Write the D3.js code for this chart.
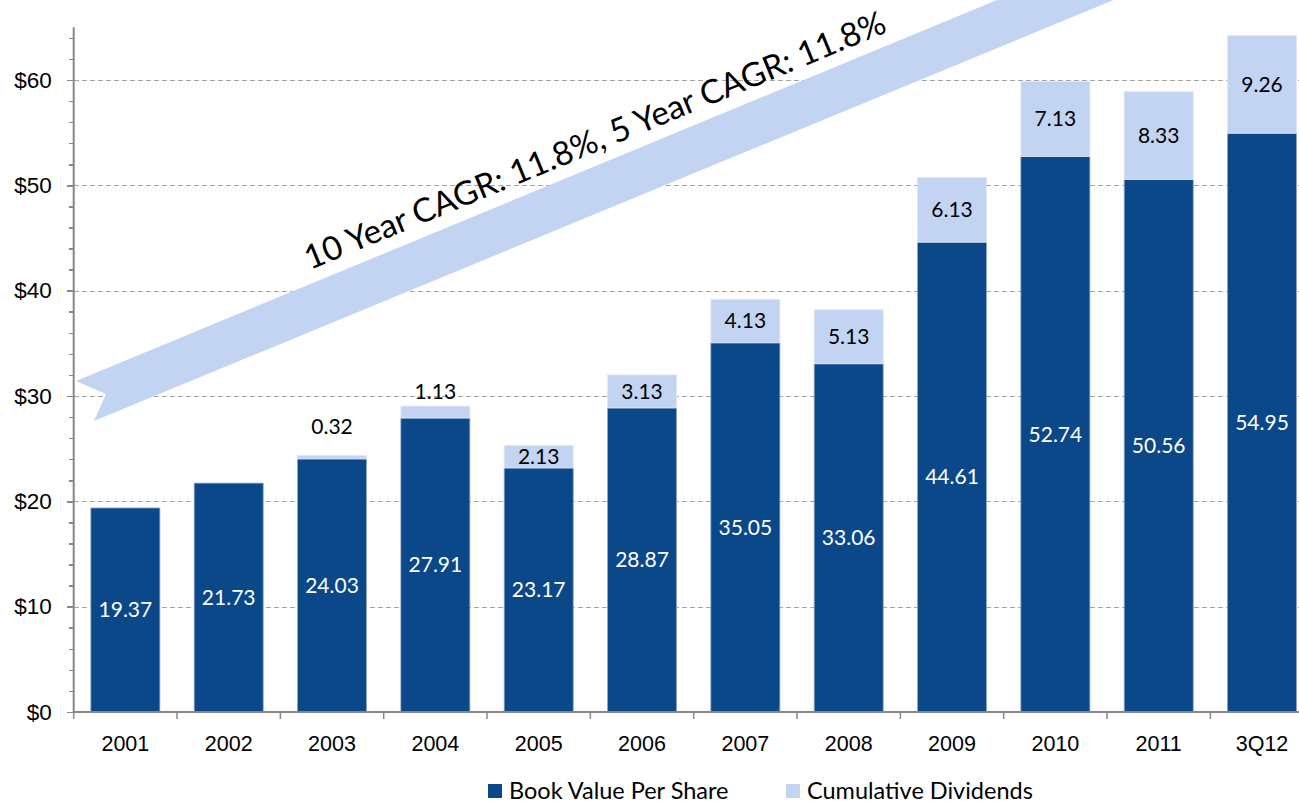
<!DOCTYPE html>
<html>
<head>
    <meta charset="utf-8">
    <style>
        body {
            margin: 0;
            background: #fff;
        }

        svg {
            font-family: Lato, "Open Sans", sans-serif;
            display: block;
        }

        .axis path,
        .axis line {
            stroke: #878787;
            shape-rendering: crispEdges;
        }

        .axis text {
            fill: #000;
        }

        .grid line {
            stroke: #a6a6a6;
            stroke-dasharray: 5, 3;
            shape-rendering: crispEdges;
        }
    </style>
</head>

<body>
    <script src="https://d3js.org/d3.v7.min.js"></script>
    <script>

        // chart data
        var categories = ["2001", "2002", "2003", "2004", "2005", "2006", "2007", "2008", "2009", "2010", "2011", "3Q12"];
        var bookValue = [19.37, 21.73, 24.03, 27.91, 23.17, 28.87, 35.05, 33.06, 44.61, 52.74, 50.56, 54.95];
        var dividends = [0, 0, 0.32, 1.13, 2.13, 3.13, 4.13, 5.13, 6.13, 7.13, 8.33, 9.26];
        var yTickValues = [0, 10, 20, 30, 40, 50, 60];
        var seriesNames = ["Book Value Per Share", "Cumulative Dividends"];
        var seriesColors = ["#0b4889", "#c3d4f3"];
        var arrowLabel = "10 Year CAGR: 11.8%, 5 Year CAGR: 11.8%";

        var width = 1299,
            height = 805,
            left = 73.7,
            right = 1313.7,
            bottom = 712;

        var svg = d3.select("body").append("svg")
            .attr("width", width)
            .attr("height", height);

        var x = d3.scaleBand()
            .domain(categories)
            .range([left, right])
            .paddingInner(0.332)
            .paddingOuter(0.166);

        // continuous position along the category axis (in category units)
        var xPos = d3.scaleLinear()
            .domain([0, categories.length])
            .range([left, right]);

        var y = d3.scaleLinear()
            .domain([0, 65])
            .range([bottom, bottom - 65 * 10.533]);

        // gridlines
        svg.append("g")
            .attr("class", "grid")
            .selectAll("line")
            .data(yTickValues.filter(function (d) { return d > 0; }))
            .enter().append("line")
            .attr("x1", left)
            .attr("x2", width)
            .attr("y1", function (d) { return Math.round(y(d)) + 0.5; })
            .attr("y2", function (d) { return Math.round(y(d)) + 0.5; });

        // growth arrow behind the bars (points in category units / dollars)
        var arrowPts = [[0.022, 31.43], [11.868, 79.5], [11.868, 74.9], [0.196, 27.63], [0.313, 30.19]];
        svg.append("path")
            .attr("d", d3.line()
                .x(function (d) { return xPos(d[0]); })
                .y(function (d) { return y(d[1]); })(arrowPts) + "Z")
            .attr("fill", seriesColors[1]);

        var arrowText = svg.append("text")
            .attr("transform", "translate(310,270) rotate(-22.4)")
            .style("font-size", "36px")
            .attr("fill", "#000")
            .text(arrowLabel);
        var len = arrowText.node().getComputedTextLength();
        arrowText.style("font-size", (36 * 626 / len) + "px");

        // stacked bars
        var rows = categories.map(function (c, i) {
            return { cat: c, book: bookValue[i], div: dividends[i] };
        });

        var bars = svg.selectAll(".bar")
            .data(rows)
            .enter().append("g")
            .attr("class", "bar");

        bars.append("rect")
            .attr("x", function (d) { return x(d.cat); })
            .attr("width", x.bandwidth())
            .attr("y", function (d) { return y(d.book); })
            .attr("height", function (d) { return y(0) - y(d.book); })
            .attr("fill", seriesColors[0])
            .attr("stroke", "#8fa6c6")
            .attr("stroke-width", 0.8);

        bars.filter(function (d) { return d.div > 0; })
            .append("rect")
            .attr("x", function (d) { return x(d.cat); })
            .attr("width", x.bandwidth())
            .attr("y", function (d) { return y(d.book + d.div); })
            .attr("height", function (d) { return y(d.book) - y(d.book + d.div); })
            .attr("fill", seriesColors[1])
            .attr("stroke", "#dfe7f7")
            .attr("stroke-width", 0.8);

        bars.append("text")
            .attr("x", function (d) { return x(d.cat) + x.bandwidth() / 2; })
            .attr("y", function (d) { return y(d.book / 2); })
            .attr("text-anchor", "middle")
            .attr("dy", "0.35em")
            .attr("fill", "#fff")
            .style("font-size", "21px")
            .text(function (d) { return d.book.toFixed(2); });

        bars.filter(function (d) { return d.div > 0; })
            .append("text")
            .attr("x", function (d) { return x(d.cat) + x.bandwidth() / 2; })
            .attr("y", function (d) {
                // small segments get their label above the bar
                if (d.div < 2) return y(d.book + d.div) - (d.div < 0.5 ? 29 : 14);
                return y(d.book + d.div / 2);
            })
            .attr("text-anchor", "middle")
            .attr("dy", "0.35em")
            .attr("fill", "#000")
            .style("font-size", "21px")
            .text(function (d) { return d.div.toFixed(2); });

        // y axis with minor ticks
        svg.append("g")
            .attr("class", "axis")
            .attr("transform", "translate(" + left + ",0)")
            .call(d3.axisLeft(y).tickValues(d3.range(0, 65, 2)).tickSize(5).tickFormat(""))
            .call(function (g) { g.select(".domain").remove(); })
            .selectAll("line").attr("stroke-width", 1.5);

        var yAxis = svg.append("g")
            .attr("class", "axis")
            .attr("transform", "translate(" + left + ",0)")
            .call(d3.axisLeft(y).tickValues(yTickValues).tickSize(7).tickPadding(15)
                .tickFormat(function (d) { return "$" + d; }));
        yAxis.select(".domain").remove();
        yAxis.selectAll("line").attr("stroke-width", 1.5);
        yAxis.selectAll("text").style("font-size", "22.5px");

        svg.append("line")
            .attr("x1", left).attr("x2", left)
            .attr("y1", y(65)).attr("y2", y(0))
            .attr("stroke", "#878787")
            .attr("stroke-width", 2);

        // x axis
        var xAxis = svg.append("g")
            .attr("class", "axis")
            .attr("transform", "translate(0," + bottom + ")")
            .call(d3.axisBottom(x).tickSize(0).tickPadding(24));
        xAxis.select(".domain").remove();
        xAxis.selectAll("text").style("font-size", "21.5px");

        svg.append("line")
            .attr("x1", left).attr("x2", right)
            .attr("y1", bottom).attr("y2", bottom)
            .attr("stroke", "#878787")
            .attr("stroke-width", 2);

        svg.selectAll(".xtick")
            .data(d3.range(0, categories.length + 1))
            .enter().append("line")
            .attr("class", "xtick")
            .attr("x1", function (d) { return xPos(d); })
            .attr("x2", function (d) { return xPos(d); })
            .attr("y1", bottom)
            .attr("y2", bottom + 7)
            .attr("stroke", "#878787")
            .attr("stroke-width", 1.5);

        // legend
        var legendX = [488, 786];
        var legend = svg.selectAll(".legend")
            .data(seriesNames)
            .enter().append("g")
            .attr("class", "legend")
            .attr("transform", function (d, i) { return "translate(" + legendX[i] + ",791)"; });

        legend.append("rect")
            .attr("x", 0)
            .attr("y", -7)
            .attr("width", 14)
            .attr("height", 14)
            .attr("fill", function (d, i) { return seriesColors[i]; });

        legend.append("text")
            .attr("x", 21)
            .attr("dy", "0.35em")
            .style("font-size", "23.5px")
            .attr("fill", "#000")
            .text(function (d) { return d; });

    </script>
</body>
</html>
